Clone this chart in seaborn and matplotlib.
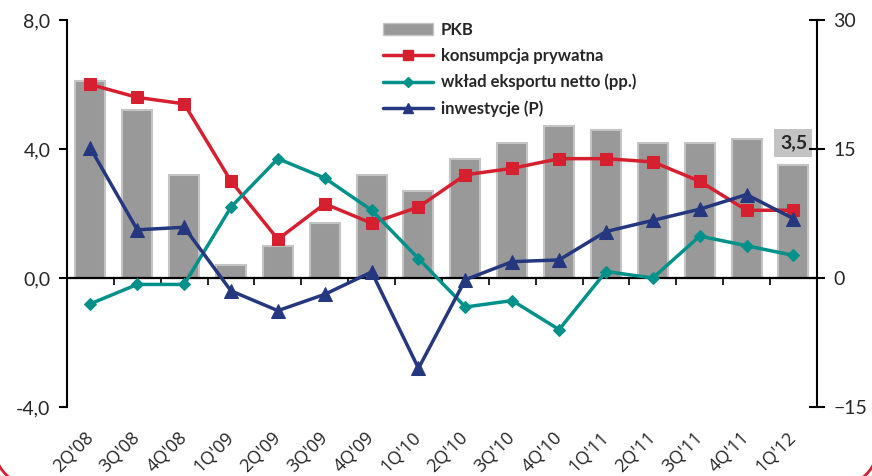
import numpy as np
import matplotlib
matplotlib.use("Agg")
import matplotlib.pyplot as plt
import seaborn as sns
from matplotlib.lines import Line2D
from matplotlib.patches import Patch, Arc
from matplotlib.ticker import FuncFormatter

# data
quarters = ["2Q'08", "3Q'08", "4Q'08", "1Q'09", "2Q'09", "3Q'09", "4Q'09", "1Q'10",
            "2Q'10", "3Q'10", "4Q'10", "1Q'11", "2Q'11", "3Q'11", "4Q'11", "1Q'12"]
pkb = [6.1, 5.2, 3.2, 0.4, 1.0, 1.7, 3.2, 2.7, 3.7, 4.2, 4.7, 4.6, 4.2, 4.2, 4.3, 3.5]
konsumpcja = [6.0, 5.6, 5.4, 3.0, 1.2, 2.3, 1.7, 2.2, 3.2, 3.4, 3.7, 3.7, 3.6, 3.0, 2.1, 2.1]
eksport_netto = [-0.8, -0.2, -0.2, 2.2, 3.7, 3.1, 2.1, 0.6, -0.9, -0.7, -1.6, 0.2, 0.0, 1.3, 1.0, 0.7]
inwestycje = [15.1, 5.6, 5.9, -1.5, -3.8, -1.9, 0.7, -10.5, -0.2, 1.9, 2.1, 5.4, 6.7, 8.0, 9.7, 6.9]

labels = ["PKB", "konsumpcja prywatna", "wkład eksportu netto (pp.)", "inwestycje (P)"]

# colours
bar_color = '#999999'
bar_edge = '#c4c4c4'
red = '#d7202f'
teal = '#00918a'
navy = '#25387f'

sns.set_style("white")
plt.rcParams['font.family'] = ['Lato', 'DejaVu Sans']

fig = plt.figure(figsize=(8.72, 4.76), dpi=100)
ax = fig.add_axes([0.0768, 0.145, 0.86, 0.813])
ax2 = ax.twinx()

pos = np.arange(len(quarters))

# bars (left axis)
sns.barplot(x=pos, y=pkb, color=bar_color, edgecolor=bar_edge, linewidth=1.5,
            width=0.64, saturation=1, ax=ax, native_scale=True)

# zero line
ax.axhline(0, color='black', lw=1.6, zorder=1.5)

# lines on left axis
sns.lineplot(x=pos, y=konsumpcja, color=red, lw=2.5, marker='s', markersize=9,
             markeredgecolor=red, ax=ax, zorder=3)
sns.lineplot(x=pos, y=eksport_netto, color=teal, lw=2.5, marker='D', markersize=6.5,
             markeredgecolor=teal, ax=ax, zorder=3)
# investments on right axis
sns.lineplot(x=pos, y=inwestycje, color=navy, lw=2.5, marker='^', markersize=10,
             markeredgecolor=navy, ax=ax2)

ax.set_xlim(-0.5, len(quarters) - 0.5)
ax.set_ylim(-4, 8)
ax.set_yticks([-4, 0, 4, 8])
ax.yaxis.set_major_formatter(FuncFormatter(lambda v, p: f"{v:.1f}".replace('.', ',')))
ax2.set_ylim(-15, 30)
ax2.set_yticks([-15, 0, 15, 30])

# spines
for a in (ax, ax2):
    a.spines['top'].set_visible(False)
    a.spines['bottom'].set_visible(False)
    a.spines['left'].set_color('black')
    a.spines['right'].set_color('black')
    a.spines['left'].set_linewidth(1.5)
    a.spines['right'].set_linewidth(1.5)
ax.spines['right'].set_visible(False)
ax2.spines['left'].set_visible(False)

ax.tick_params(axis='y', direction='out', length=6, width=1.5, labelsize=14, pad=6,
               left=True, color='black')
ax2.tick_params(axis='y', direction='inout', length=12, width=1.5, labelsize=14, pad=6,
                right=True, color='black')

# category labels
ax.set_xticks(pos)
ax.set_xticklabels(quarters, rotation=45, ha='right', va='center',
                   rotation_mode='anchor', fontsize=13, family=['Open Sans', 'DejaVu Sans'])
ax.tick_params(axis='x', length=0, pad=20)
ax.set_xlabel('')
ax.set_ylabel('')
ax2.set_ylabel('')

# small category ticks on the zero line
zero = ax.secondary_xaxis(1/3)
zero.set_xticks(np.arange(-0.5, len(quarters), 1.0))
zero.set_xticklabels([])
zero.tick_params(direction='out', length=5, width=1.2, bottom=True, color='black')
zero.spines['bottom'].set_visible(False)

# value label
ax.annotate("3,5", xy=(pos[-1], pkb[-1]), xytext=(0, 16), textcoords='offset points',
            ha='center', va='center', fontsize=14, fontweight='bold', zorder=5,
            bbox=dict(boxstyle='square,pad=0.28', facecolor='#c3c3c3', edgecolor='none'))

# legend
handles = [Patch(facecolor=bar_color, edgecolor=bar_edge),
           Line2D([], [], color=red, lw=2.5, marker='s', markersize=7),
           Line2D([], [], color=teal, lw=2.5, marker='D', markersize=5),
           Line2D([], [], color=navy, lw=2.5, marker='^', markersize=7)]
leg = fig.legend(handles, labels, loc='upper left', bbox_to_anchor=(0.432, 0.968),
                 frameon=False, handlelength=3.0, labelspacing=0.6,
                 handletextpad=0.45, borderaxespad=0,
                 prop={'family': ['Lato', 'DejaVu Sans'], 'size': 12, 'weight': 'bold'})

# red rounded corners of the slide frame
W, H = 872, 476
for cx, t1, t2 in [(34, 180, 270), (W - 34, 270, 360)]:
    fig.add_artist(Arc((cx / W, 30 / H), 80 / W, 80 / H, theta1=t1, theta2=t2,
                       transform=fig.transFigure, color=red, lw=2))

fig.savefig('out.png', dpi=100)
